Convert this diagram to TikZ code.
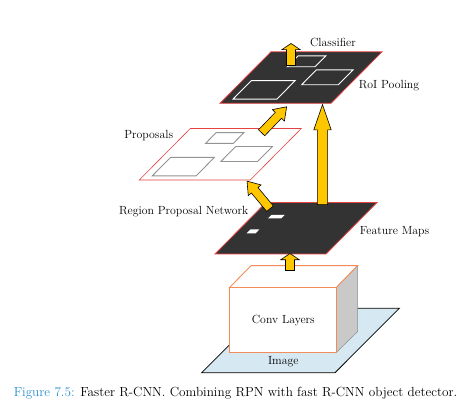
\documentclass[tikz,border=0pt]{standalone}
\usetikzlibrary{calc, shapes.arrows}
\definecolor{PlaneGray}{rgb}{0.2, 0.2, 0.2}
\definecolor{EdgeRed}{rgb}{0.9, 0.26, 0.26}
\definecolor{ArrowYellow}{rgb}{1, 0.78, 0}
\definecolor{BoxOrange}{rgb}{0.95, 0.55, 0.35}
\definecolor{SideGray}{rgb}{0.79, 0.79, 0.79}
\definecolor{ImageBlue}{rgb}{0.84, 0.91, 0.95}
\definecolor{CaptionBlue}{rgb}{0.16, 0.56, 0.82}
% slanted box on a plane: u1, v1, u2, v2
\newcommand{\slab}[5][]{\draw[#1] (#2,#3) -- (#4,#3) -- (#4,#5) -- (#2,#5) -- cycle;}

\begin{document}
\begin{tikzpicture}[
    x=1pt, y=-1pt,
    font=\fontsize{11.8}{14}\selectfont,
    onplane/.style={shift={#1}, x={(111pt,0pt)}, y={(51pt,51.5pt)}},
    fmap/.style={draw=EdgeRed, fill=PlaneGray, line width=0.8pt},
    propplane/.style={draw=EdgeRed, fill=white, line width=0.6pt},
    roibox/.style={draw=white, line width=0.9pt},
    propbox/.style={draw=gray!85, line width=0.9pt},
    yarrow/.style={single arrow, draw=black, fill=ArrowYellow, line width=0.6pt,
        inner xsep=0pt, inner ysep=#1, minimum width=0pt},
    tag/.style={anchor=base, inner sep=0pt},
]
\useasboundingbox (0,0) rectangle (474,419);

% image and conv block
\draw[fill=ImageBlue, line width=0.8pt] (201.7,372.7) -- (335,372.7) -- (399.3,308.3) -- (266,308.3) -- cycle;
\draw[fill=SideGray, draw=SideGray!70!black, line width=0.5pt]
    (336,287.7) -- (357.5,265.7) -- (357.5,331.7) -- (336,352.7) -- cycle;
\draw[fill=white, draw=BoxOrange, line width=0.9pt]
    (229.3,287.7) -- (251,265.7) -- (357.5,265.7) -- (336,287.7) -- cycle;
\draw[fill=white, draw=BoxOrange, line width=0.9pt] (229.3,287.7) rectangle (336,352.7);
\node[tag] (conv) at (283.3,323.3) {Conv Layers};
\node[tag] (img) at (283.3,365) {Image};

% feature maps
\begin{scope}[onplane={(215,254)}]
  \draw[fmap] (0,0) -- (1,0) -- (1,1) -- (0,1) -- cycle;
  \slab[fill=white, draw=none]{0.16}{0.69}{0.28}{0.76}
  \slab[fill=white, draw=none]{0.10}{0.40}{0.18}{0.48}
\end{scope}

% proposals
\begin{scope}[onplane={(139.3,180)}]
  \draw[propplane] (0,0) -- (1,0) -- (1,1) -- (0,1) -- cycle;
  \slab[propbox]{0.08}{0.08}{0.475}{0.44}
  \slab[propbox]{0.57}{0.36}{0.90}{0.65}
  \slab[propbox]{0.27}{0.71}{0.52}{0.92}
\end{scope}

% roi pooling
\begin{scope}[onplane={(220,103.3)}]
  \draw[fmap] (0,0) -- (1,0) -- (1,1) -- (0,1) -- cycle;
  \slab[roibox]{0.08}{0.08}{0.475}{0.44}
  \slab[roibox]{0.57}{0.36}{0.90}{0.65}
  \slab[roibox]{0.28}{0.71}{0.53}{0.92}
\end{scope}

% arrow ends
\coordinate (convtop) at (290,272);
\coordinate (fmapin) at (290,255);
\coordinate (fmaprpn) at (272,211);
\coordinate (propin) at (249,183.5);
\coordinate (propout) at (259.5,135);
\coordinate (roiin) at (284.5,109);
\coordinate (fmaproi) at (322.5,212);
\coordinate (roiside) at (322.5,112);
\coordinate (roiout) at (291,67);
\coordinate (clsin) at (291,45);

\foreach \a/\b/\w/\e/\t in {convtop/fmapin/4.2pt/4.8pt/112,
    fmaprpn/propin/4pt/4pt/70, propout/roiin/4pt/4pt/70,
    fmaproi/roiside/4.8pt/3.6pt/38, roiout/clsin/4.2pt/4.6pt/112}
  \path let \p1=($(\b)-(\a)$), \n1={veclen(\x1,\y1)}, \n2={atan2(\y1,\x1)} in
    node[yarrow=\w, single arrow head extend=\e, single arrow tip angle=\t,
         minimum height=\n1, rotate=\n2] at ($(\a)!0.5!(\b)$) {};

\node[tag] (fmaplbl) at (394.5,235) {Feature Maps};
\node[tag] (rpnlbl) at (183.7,214.3) {Region Proposal Network};
\node[tag] (proplbl) at (148.7,138.3) {Proposals};
\node[tag] (roilbl) at (389,88.3) {RoI Pooling};
\node[tag] (clslbl) at (333,46.5) {Classifier};

\node[tag, font=\fontsize{13.2}{15}\selectfont] (caption) at (235.5,396.7)
    {\textcolor{CaptionBlue}{Figure 7.5:} Faster R-CNN. Combining RPN with fast R-CNN object detector.};
\end{tikzpicture}
\end{document}
